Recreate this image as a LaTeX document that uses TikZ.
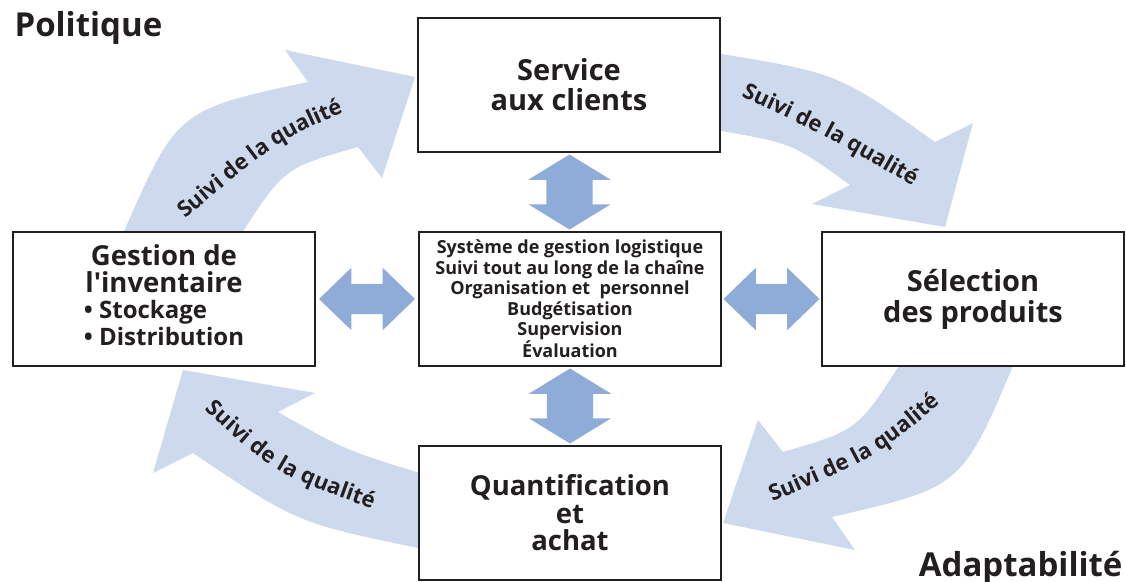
\documentclass[tikz,border=0pt]{standalone}
\usepackage{fontspec}
\setmainfont{Open Sans}
\usetikzlibrary{calc,shapes.arrows,decorations.text}
\definecolor{cadre}{RGB}{35,31,32}
\definecolor{bleuclair}{RGB}{205,217,237}
\definecolor{bleumoyen}{RGB}{143,171,216}
\newcommand\suivifont{\bfseries\fontsize{22}{24}\selectfont}

\begin{document}
\begin{tikzpicture}[x=1pt,y=-1pt,
		boite/.style={draw=cadre,line width=2.6pt,fill=white,minimum width=302pt,minimum height=134pt,inner sep=0pt,align=center,text=cadre,font=\bfseries\fontsize{29}{#1}\selectfont},
		boite/.default=29,
		fleche/.style={fill=bleuclair},
		suivi/.style={decorate,decoration={text along path,text={|\suivifont|Suivi de la qualité},text align=center,raise=-7pt,text color=cadre}},
		dblv/.style={double arrow,fill=bleumoyen,rotate=90,inner xsep=0pt,inner ysep=23pt,minimum height=75pt,double arrow head extend=18pt,double arrow tip angle=117},
		dblh/.style={double arrow,fill=bleumoyen,inner xsep=0pt,inner ysep=15pt,minimum height=96pt,double arrow head extend=16pt,double arrow tip angle=88},
		titre/.style={text=cadre,font=\bfseries\fontsize{33}{35}\selectfont}]
	\useasboundingbox (0,0) rectangle (1126,581);
	% grandes fleches
	\fill[fleche] (122,236) .. controls (177,110) .. (308,82) -- (285,50) -- (415,77) -- (382,178) -- (358,147) .. controls (284,168) .. (240,236) -- cycle;
	\fill[fleche] (715,53) .. controls (838,73) .. (935,142) -- (973,123) -- (945,227) -- (812,204) -- (850,185) .. controls (792,143) .. (715,130) -- cycle;
	\fill[fleche] (1015,361) .. controls (962,487) .. (832,517) -- (855,550) -- (723,523) -- (758,420) -- (783,452) .. controls (858,430) .. (902,361) -- cycle;
	\fill[fleche] (423,549) .. controls (297,523) .. (193,453) -- (153,473) -- (183,370) -- (315,393) -- (278,412) .. controls (345,450) .. (423,474) -- cycle;
	\path[suivi] (173,220) .. controls (273,135) .. (350,102);
	\path[suivi] (735,86) .. controls (826,128) .. (925,185);
	\path[suivi] (764,498) .. controls (872,452) .. (941,394);
	\path[suivi] (203,398) .. controls (278,468) .. (383,505);
	% boites
	\node[boite=30] (serv) at (569,85) {Service\\aux clients};
	\node[boite,font=\bfseries\fontsize{27.5}{26.5}\selectfont] (inv) at (164,299) {Gestion de\\l\textquotesingle inventaire\\{\fontsize{24}{26.5}\selectfont\begin{tabular}[t]{@{}l@{}}• Stockage\\• Distribution\end{tabular}}};
	\node[boite,font=\bfseries\fontsize{18}{20.5}\selectfont] (centre) at (570,299) {Système de gestion logistique\\Suivi tout au long de la chaîne\\Organisation et~ personnel\\Budgétisation\\Supervision\\Évaluation};
	\node[boite=31] (sel) at (973,299) {Sélection\\des produits};
	\node[boite,font=\bfseries\fontsize{27.5}{27.5}\selectfont] (quant) at (570,513) {Quantification\\et\\achat};
	% doubles fleches
	\node[dblv] (f1) at ($(serv.south)!0.5!(centre.north)$) {};
	\node[dblv] (f2) at ($(centre.south)!0.5!(quant.north)$) {};
	\node[dblh] (f3) at ($(inv.east)!0.5!(centre.west)$) {};
	\node[dblh] (f4) at ($(centre.east)!0.5!(sel.west)$) {};
	\node[titre,anchor=base west] (pol) at (11,36) {Politique};
	\node[titre,anchor=base east] (adap) at (1126,576) {Adaptabilité};
\end{tikzpicture}
\end{document}
